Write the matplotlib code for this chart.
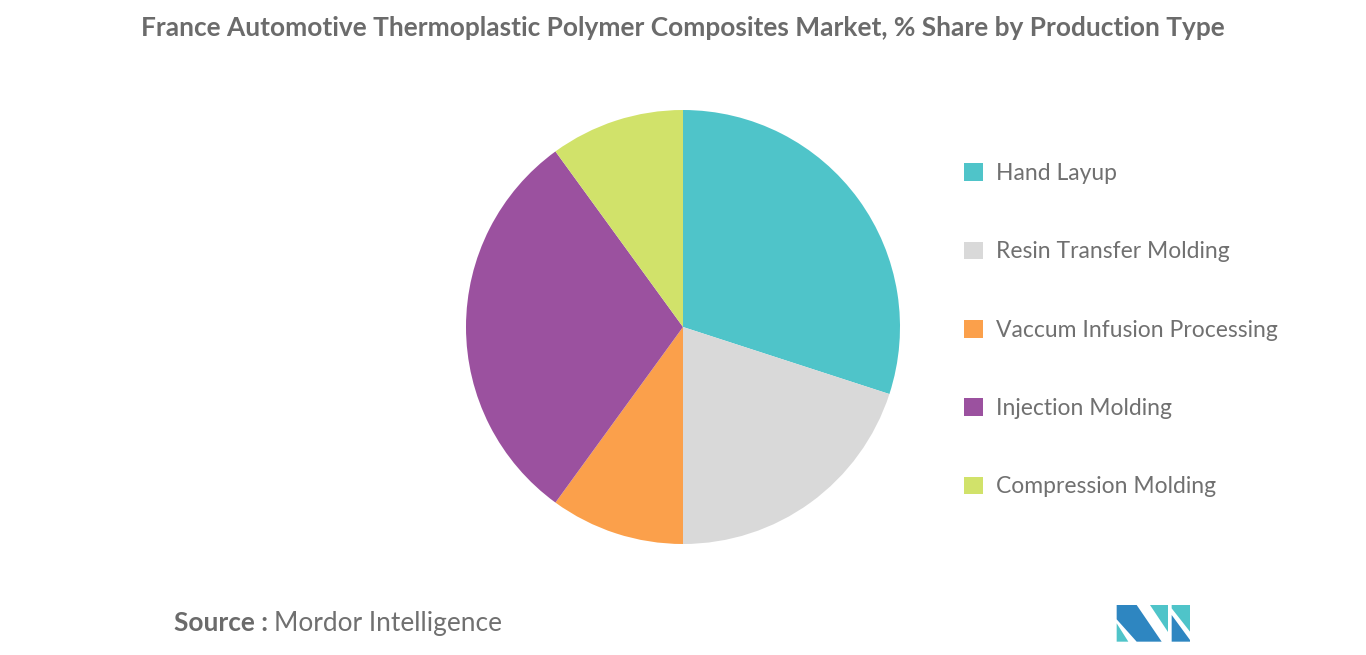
import matplotlib
matplotlib.use("Agg")
from matplotlib import pyplot as plt
from matplotlib.patches import Polygon

# Дані
labels = ["Hand Layup", "Resin Transfer Molding", "Vaccum Infusion Processing",
          "Injection Molding", "Compression Molding"]
shares = [30, 20, 10, 30, 10]
colors = ["#4FC4C9", "#D9D9D9", "#FBA04B", "#9B519F", "#D1E26A"]

title = "France Automotive Thermoplastic Polymer Composites Market, % Share by Production Type"

plt.rcParams["font.family"] = ["Lato", "DejaVu Sans"]
W, H = 1366, 655
fig = plt.figure(figsize=(W / 100, H / 100), dpi=100)
fig.patch.set_facecolor("white")

# Кругова діаграма
cx, cy, r = 683, 327, 217
ax = fig.add_axes([(cx - r) / W, (H - cy - r) / H, 2 * r / W, 2 * r / H])
wedges, _ = ax.pie(shares, colors=colors, startangle=90, counterclock=False,
                   radius=1, wedgeprops={"linewidth": 0})
ax.set_xlim(-1, 1)
ax.set_ylim(-1, 1)
ax.set_aspect("equal")
ax.axis("off")

# Легенда
fig.legend(wedges, labels, loc="upper left", bbox_to_anchor=(955 / W, 1 - 154 / H),
           frameon=False, prop={"size": 16.5}, labelcolor="#707070",
           handlelength=0.8, handleheight=0.8, handletextpad=0.6,
           labelspacing=2.5, borderaxespad=0)

# Заголовок
fig.text(683 / W, 1 - 28 / H, title, ha="center", va="center",
         fontsize=18.9, fontweight="bold", color="#6b6b6b")

# Джерело
t = fig.text(174 / W, 1 - 623 / H, "Source : ", ha="left", va="center",
             fontsize=18.9, fontweight="bold", color="#6b6b6b")
fig.canvas.draw()
bb = t.get_window_extent()
fig.text(bb.x1 / W, 1 - 623 / H, "Mordor Intelligence", ha="left", va="center",
         fontsize=18.9, color="#707070")

# Логотип
def logo_poly(pts, color):
    xy = [((1100 + x / 3) / W, 1 - (590 + y / 3) / H) for x, y in pts]
    fig.patches.append(Polygon(xy, closed=True, facecolor=color, edgecolor="none",
                               transform=fig.transFigure))

dark = "#2E86C1"
teal = "#4FC4C9"
logo_poly([(50, 45), (110, 45), (185, 155), (110, 155), (50, 88)], dark)
logo_poly([(50, 100), (85, 155), (50, 155)], teal)
logo_poly([(150, 45), (205, 45), (205, 125)], teal)
logo_poly([(215, 45), (270, 45), (270, 125), (215, 55)], teal)
logo_poly([(215, 75), (270, 150), (270, 155), (215, 155)], dark)

fig.savefig("out.png", dpi=100)
